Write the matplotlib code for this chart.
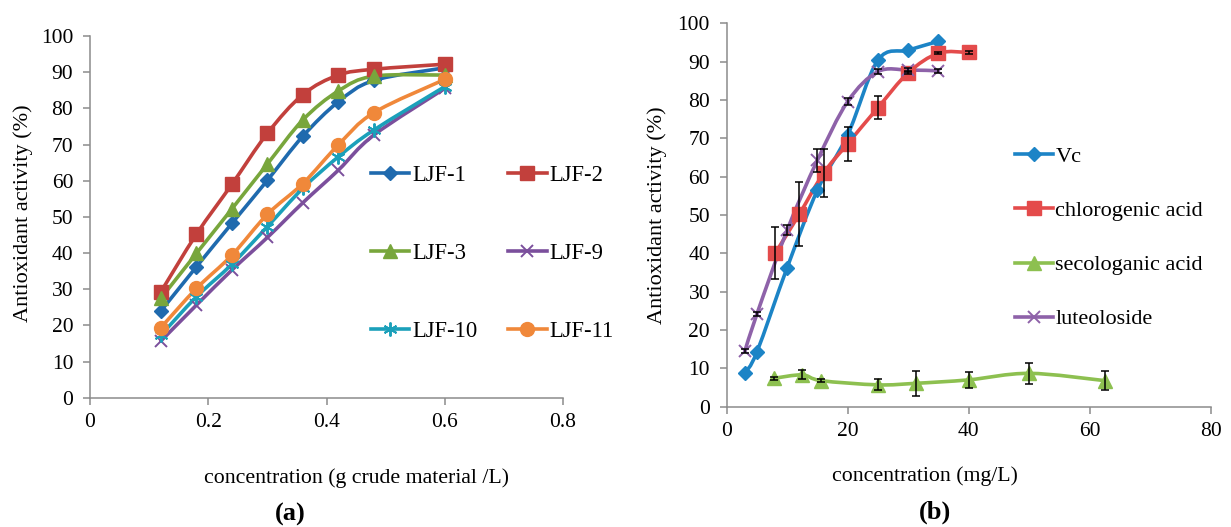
import numpy as np
import matplotlib
matplotlib.use("Agg")
import matplotlib.pyplot as plt
from matplotlib.path import Path
from matplotlib.patches import PathPatch
from matplotlib.lines import Line2D

plt.rcParams['font.family'] = ['Liberation Serif', 'DejaVu Serif']

# ---------------- data: panel (a) ----------------
conc_a = [0.12, 0.18, 0.24, 0.30, 0.36, 0.42, 0.48, 0.60]
ljf1 = [24.0, 36.2, 48.2, 60.1, 72.3, 81.8, 87.7, 91.2]
ljf2 = [29.3, 45.2, 59.0, 73.1, 83.8, 89.2, 90.8, 92.2]
ljf3 = [27.5, 39.9, 52.2, 64.6, 76.8, 84.8, 88.9, 89.2]
ljf9 = [15.7, 25.6, 35.3, 44.3, 53.9, 62.9, 72.6, 85.5]
ljf10 = [17.3, 27.9, 36.9, 47.3, 57.9, 66.6, 74.0, 86.0]
ljf11 = [19.4, 30.2, 39.4, 50.7, 59.2, 69.9, 78.8, 88.0]

# ---------------- data: panel (b) ----------------
vc_x = [3, 5, 10, 15, 20, 25, 30, 35]
vc_y = [8.7, 14.3, 36.3, 56.5, 70.9, 90.4, 93.0, 95.3]
chl_x = [8, 12, 16, 20, 25, 30, 35, 40]
chl_y = [40.0, 50.2, 60.9, 68.6, 78.0, 87.1, 92.2, 92.4]
chl_err = [6.8, 8.4, 6.2, 4.4, 3.0, 0.4, 0.3, 0.3]
sec_x = [7.8, 12.5, 15.6, 25, 31.25, 40, 50, 62.5]
sec_y = [7.4, 8.3, 6.8, 5.7, 6.1, 7.0, 8.7, 6.8]
sec_err = [0.4, 1.2, 0.4, 1.4, 3.2, 2.1, 2.8, 2.5]
lut_x = [3, 5, 10, 15, 20, 25, 30, 35]
lut_y = [14.5, 24.2, 46.1, 64.3, 79.6, 87.4, 87.8, 87.6]
lut_err = [0.6, 0.5, 1.2, 3.0, 0.8, 0.6, 0.5, 0.6]

W, H = 1231, 527
fig = plt.figure(figsize=(W / 100, H / 100), dpi=100)


def fx(px):
    return px / W


def fy(py):
    return 1 - py / H


def smooth_path(x, y):
    pts = np.column_stack([np.asarray(x, float), np.asarray(y, float)])
    n = len(pts)
    verts = [pts[0]]
    codes = [Path.MOVETO]
    for i in range(n - 1):
        p0 = pts[i - 1] if i > 0 else pts[i]
        p1 = pts[i]
        p2 = pts[i + 1]
        p3 = pts[i + 2] if i + 2 < n else pts[i + 1]
        c1 = p1 + (p2 - p0) / 6.0
        c2 = p2 - (p3 - p1) / 6.0
        verts += [c1, c2, p2]
        codes += [Path.CURVE4] * 3
    return Path(verts, codes)


def style_axes(ax):
    for s in ['top', 'right']:
        ax.spines[s].set_visible(False)
    for s in ['left', 'bottom']:
        ax.spines[s].set_color('#8c8c8c')
        ax.spines[s].set_linewidth(1.1)
    ax.tick_params(axis='both', direction='out', length=5, width=1.1,
                   color='#8c8c8c', labelsize=15.5, labelcolor='black')
    ax.tick_params(axis='y', pad=7)
    ax.tick_params(axis='x', pad=6)


def series(ax, x, y, color, marker, ms, mew=1.0, label=None):
    ax.add_patch(PathPatch(smooth_path(x, y), fill=False, edgecolor=color,
                           lw=2.6, transform=ax.transData, zorder=3,
                           capstyle='round', joinstyle='round'))
    ax.plot(x, y, ls='none', marker=marker, ms=ms, color=color,
            mec=color, mew=mew, zorder=4)
    return Line2D([], [], color=color, lw=2.6, marker=marker, ms=ms,
                  mec=color, mew=mew, label=label)


# ---------------- panel (a) ----------------
axa = fig.add_axes([fx(90), fy(397.7), fx(563 - 90), (397.7 - 36) / H])
style_axes(axa)
axa.set_xlim(0, 0.8)
axa.set_ylim(0, 100)
axa.set_xticks([0, 0.2, 0.4, 0.6, 0.8])
axa.set_xticklabels(['0', '0.2', '0.4', '0.6', '0.8'])
axa.set_yticks(range(0, 101, 10))

asterisk = (6, 2, 0)
h1 = series(axa, conc_a, ljf1, '#1F6AAE', 'D', 7, label='LJF-1')
h2 = series(axa, conc_a, ljf2, '#C2403C', 's', 9.5, label='LJF-2')
h3 = series(axa, conc_a, ljf3, '#78A63C', '^', 10.5, label='LJF-3')
h9 = series(axa, conc_a, ljf9, '#7B4F9C', 'x', 9, mew=1.4, label='LJF-9')
h10 = series(axa, conc_a, ljf10, '#1BA0BA', asterisk, 10, mew=1.4, label='LJF-10')
h11 = series(axa, conc_a, ljf11, '#F0883A', 'o', 10, label='LJF-11')

fig.legend(handles=[h1, h3, h10, h2, h9, h11], ncol=2, frameon=False,
           loc='upper left', bbox_to_anchor=(fx(371), fy(165)),
           fontsize=16.3, handlelength=1.7, handletextpad=0.12,
           columnspacing=1.35, labelspacing=2.52, borderpad=0, borderaxespad=0)

fig.text(fx(23), fy(213), 'Antioxidant activity (%)', rotation=90,
         ha='center', va='center', fontsize=16)
fig.text(fx(357), fy(478), 'concentration (g crude material /L)',
         ha='center', va='center', fontsize=15.7)
fig.text(fx(290), fy(514), '(a)', ha='center', va='center',
         fontsize=19, fontweight='bold')

# ---------------- panel (b) ----------------
axb = fig.add_axes([fx(726.7), fy(406.7), fx(1210.7 - 726.7), (406.7 - 23.3) / H])
style_axes(axb)
axb.set_xlim(0, 80)
axb.set_ylim(0, 100)
axb.set_xticks(range(0, 81, 20))
axb.set_yticks(range(0, 101, 10))

for ex, ey, ee in [(chl_x, chl_y, chl_err), (sec_x, sec_y, sec_err),
                   (lut_x, lut_y, lut_err)]:
    axb.errorbar(ex, ey, yerr=ee, fmt='none', ecolor='black',
                 elinewidth=1.1, capsize=2.8, capthick=1.1, zorder=5)

hb1 = series(axb, vc_x, vc_y, '#1C84C6', 'D', 7.5, label='Vc')
hb2 = series(axb, chl_x, chl_y, '#E44B4B', 's', 10, label='chlorogenic acid')
hb3 = series(axb, sec_x, sec_y, '#8DC050', '^', 10.5, label='secologanic acid')
hb4 = series(axb, lut_x, lut_y, '#8E62A9', 'x', 9, mew=1.4, label='luteoloside')

fig.legend(handles=[hb1, hb2, hb3, hb4], ncol=1, frameon=False,
           loc='upper left', bbox_to_anchor=(fx(1015), fy(146.5)),
           fontsize=16, handlelength=1.7, handletextpad=0.12,
           labelspacing=1.51, borderpad=0, borderaxespad=0)

fig.text(fx(657), fy(215), 'Antioxidant activity (%)', rotation=90,
         ha='center', va='center', fontsize=16)
fig.text(fx(925), fy(476), 'concentration (mg/L)',
         ha='center', va='center', fontsize=15.7)
fig.text(fx(935), fy(512), '(b)', ha='center', va='center',
         fontsize=19, fontweight='bold')

fig.savefig('out.png', dpi=100)
